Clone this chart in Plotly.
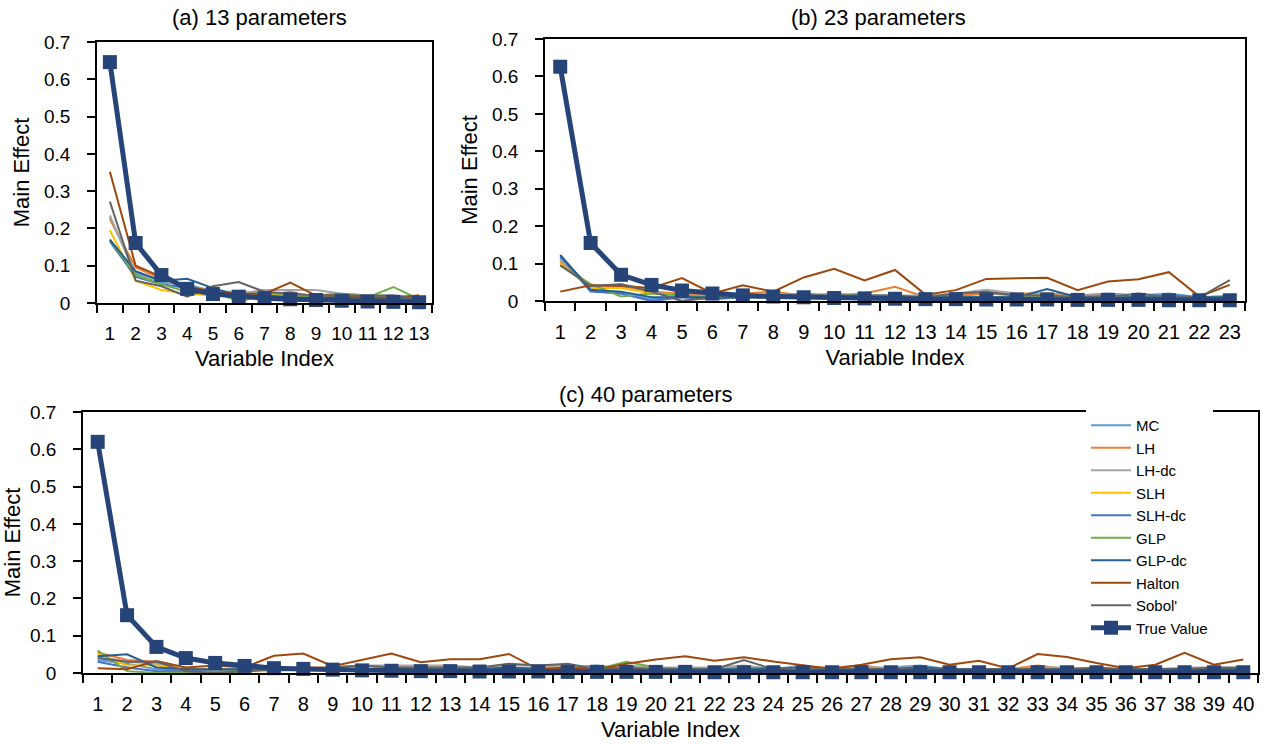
import plotly.graph_objects as go

W, H = 1266, 744

methods = ["MC", "LH", "LH-dc", "SLH", "SLH-dc", "GLP", "GLP-dc", "Halton", "Sobol'"]
colors = ["#5B9BD5", "#ED7D31", "#A5A5A5", "#FFC000", "#4472C4", "#70AD47", "#255E91", "#9E480E", "#636363"]
true_name = "True Value"
true_color = "#264478"

# ---------------- Panel (a): 13 parameters ----------------
idx_a = [str(i) for i in range(1, 14)]
a_MC = [0.23, 0.08, 0.055, 0.05, 0.03, 0.03, 0.025, 0.02, 0.02, 0.025, 0.02, 0.015, 0.015]
a_LH = [0.225, 0.095, 0.065, 0.04, 0.03, 0.025, 0.02, 0.03, 0.015, 0.015, 0.01, 0.015, 0.02]
a_LHdc = [0.235, 0.075, 0.06, 0.045, 0.035, 0.025, 0.035, 0.035, 0.035, 0.025, 0.02, 0.02, 0.015]
a_SLH = [0.195, 0.06, 0.035, 0.025, 0.02, 0.02, 0.02, 0.02, 0.015, 0.015, 0.01, 0.01, 0.01]
a_SLHdc = [0.165, 0.07, 0.05, 0.04, 0.025, 0.02, 0.015, 0.015, 0.01, 0.02, 0.015, 0.01, 0.01]
a_GLP = [0.17, 0.075, 0.05, 0.03, 0.03, 0.005, 0.02, 0.02, 0.02, 0.025, 0.015, 0.043, 0.01]
a_GLPdc = [0.17, 0.085, 0.06, 0.065, 0.04, 0.02, 0.02, 0.015, 0.015, 0.015, 0.015, 0.01, 0.01]
a_Halton = [0.352, 0.1, 0.07, 0.045, 0.03, 0.025, 0.025, 0.055, 0.02, 0.02, 0.015, 0.015, 0.02]
a_Sobol = [0.272, 0.06, 0.045, 0.017, 0.045, 0.056, 0.03, 0.025, 0.02, 0.02, 0.02, 0.02, 0.01]
a_True = [0.646, 0.161, 0.075, 0.038, 0.024, 0.017, 0.013, 0.010, 0.008, 0.006, 0.004, 0.003, 0.002]

# ---------------- Panel (b): 23 parameters ----------------
idx_b = [str(i) for i in range(1, 24)]
b_MC = [0.115, 0.028, 0.02, 0.005, 0.015, 0.01, 0.015, 0.015, 0.02, 0.015, 0.015, 0.015, 0.01, 0.015, 0.02, 0.015, 0.02, 0.015, 0.02, 0.015, 0.02, 0.01, 0.01]
b_LH = [0.105, 0.04, 0.04, 0.025, 0.02, 0.015, 0.02, 0.025, 0.015, 0.015, 0.02, 0.038, 0.01, 0.015, 0.02, 0.02, 0.02, 0.015, 0.015, 0.01, 0.01, 0.01, 0.01]
b_LHdc = [0.11, 0.04, 0.045, 0.03, 0.0, 0.015, 0.015, 0.015, 0.015, 0.02, 0.015, 0.015, 0.015, 0.02, 0.03, 0.02, 0.015, 0.015, 0.015, 0.015, 0.01, 0.01, 0.015]
b_SLH = [0.1, 0.035, 0.035, 0.02, 0.015, 0.01, 0.01, 0.01, 0.01, 0.01, 0.01, 0.015, 0.01, 0.01, 0.01, 0.01, 0.015, 0.01, 0.01, 0.01, 0.005, 0.005, 0.01]
b_SLHdc = [0.12, 0.025, 0.02, 0.0, 0.01, 0.005, 0.01, 0.01, 0.015, 0.01, 0.01, 0.01, 0.01, 0.01, 0.01, 0.01, 0.01, 0.01, 0.015, 0.01, 0.015, 0.01, 0.01]
b_GLP = [0.095, 0.045, 0.012, 0.02, 0.015, 0.01, 0.01, 0.01, 0.01, 0.015, 0.015, 0.01, 0.01, 0.015, 0.01, 0.01, 0.01, 0.015, 0.01, 0.01, 0.01, 0.01, 0.01]
b_GLPdc = [0.123, 0.03, 0.025, 0.01, 0.01, 0.01, 0.01, 0.01, 0.015, 0.01, 0.01, 0.01, 0.01, 0.01, 0.01, 0.01, 0.032, 0.01, 0.01, 0.01, 0.01, 0.01, 0.01]
b_Halton = [0.025, 0.042, 0.04, 0.035, 0.061, 0.02, 0.042, 0.025, 0.063, 0.086, 0.055, 0.083, 0.017, 0.029, 0.059, 0.061, 0.062, 0.029, 0.052, 0.058, 0.077, 0.012, 0.043]
b_Sobol = [0.095, 0.04, 0.045, 0.025, 0.0, 0.01, 0.015, 0.015, 0.015, 0.015, 0.015, 0.015, 0.01, 0.02, 0.025, 0.015, 0.015, 0.01, 0.01, 0.02, 0.01, 0.01, 0.056]
b_True = [0.626, 0.155, 0.07, 0.043, 0.028, 0.02, 0.015, 0.012, 0.01, 0.008, 0.007, 0.006, 0.005, 0.005, 0.004, 0.004, 0.004, 0.003, 0.003, 0.003, 0.002, 0.002, 0.002]

# ---------------- Panel (c): 40 parameters ----------------
idx_c = [str(i) for i in range(1, 41)]
c_MC = [0.035, 0.025, 0.01, 0.005, 0.005, 0.005, 0.01, 0.015, 0.01, 0.01, 0.015, 0.01, 0.01, 0.015, 0.01, 0.015, 0.015, 0.02, 0.01, 0.015, 0.01, 0.01, 0.015, 0.01, 0.02, 0.01, 0.01, 0.015, 0.02, 0.01, 0.01, 0.01, 0.015, 0.01, 0.01, 0.005, 0.01, 0.01, 0.015, 0.01]
c_LH = [0.055, 0.035, 0.03, 0.01, 0.01, 0.01, 0.01, 0.015, 0.015, 0.02, 0.015, 0.015, 0.015, 0.015, 0.01, 0.015, 0.015, 0.01, 0.015, 0.01, 0.015, 0.01, 0.015, 0.01, 0.015, 0.015, 0.02, 0.01, 0.01, 0.01, 0.01, 0.01, 0.02, 0.01, 0.01, 0.01, 0.01, 0.01, 0.01, 0.01]
c_LHdc = [0.045, 0.03, 0.025, 0.0, 0.0, 0.005, 0.01, 0.01, 0.015, 0.02, 0.02, 0.02, 0.02, 0.015, 0.02, 0.02, 0.02, 0.015, 0.02, 0.015, 0.015, 0.015, 0.02, 0.01, 0.015, 0.01, 0.015, 0.015, 0.015, 0.01, 0.01, 0.01, 0.015, 0.015, 0.01, 0.01, 0.01, 0.015, 0.015, 0.01]
c_SLH = [0.05, 0.02, 0.02, 0.015, 0.005, 0.005, 0.005, 0.01, 0.01, 0.01, 0.01, 0.01, 0.01, 0.01, 0.01, 0.01, 0.01, 0.01, 0.01, 0.01, 0.01, 0.01, 0.01, 0.01, 0.005, 0.005, 0.01, 0.01, 0.01, 0.005, 0.01, 0.01, 0.01, 0.01, 0.005, 0.005, 0.005, 0.01, 0.01, 0.01]
c_SLHdc = [0.03, 0.015, 0.005, 0.005, 0.005, 0.005, 0.01, 0.01, 0.01, 0.01, 0.01, 0.01, 0.01, 0.01, 0.015, 0.01, 0.01, 0.015, 0.01, 0.01, 0.01, 0.01, 0.01, 0.015, 0.01, 0.01, 0.01, 0.01, 0.015, 0.01, 0.01, 0.01, 0.01, 0.01, 0.01, 0.01, 0.01, 0.01, 0.01, 0.01]
c_GLP = [0.06, 0.005, 0.0, 0.002, 0.005, 0.005, 0.01, 0.01, 0.01, 0.01, 0.01, 0.01, 0.01, 0.01, 0.01, 0.01, 0.01, 0.01, 0.03, 0.015, 0.01, 0.01, 0.01, 0.01, 0.01, 0.01, 0.01, 0.01, 0.01, 0.01, 0.01, 0.01, 0.01, 0.01, 0.01, 0.01, 0.01, 0.01, 0.015, 0.01]
c_GLPdc = [0.045, 0.05, 0.015, 0.01, 0.01, 0.01, 0.01, 0.01, 0.01, 0.01, 0.01, 0.01, 0.01, 0.01, 0.015, 0.01, 0.01, 0.01, 0.01, 0.01, 0.01, 0.01, 0.01, 0.01, 0.015, 0.01, 0.01, 0.01, 0.015, 0.01, 0.01, 0.01, 0.01, 0.01, 0.01, 0.01, 0.01, 0.01, 0.01, 0.01]
c_Halton = [0.013, 0.01, 0.032, 0.015, 0.02, 0.015, 0.046, 0.052, 0.018, 0.036, 0.052, 0.029, 0.037, 0.037, 0.051, 0.01, 0.015, 0.01, 0.025, 0.036, 0.045, 0.033, 0.042, 0.031, 0.02, 0.011, 0.022, 0.037, 0.042, 0.022, 0.033, 0.012, 0.051, 0.043, 0.027, 0.013, 0.022, 0.054, 0.022, 0.036]
c_Sobol = [0.04, 0.03, 0.03, 0.005, 0.0, 0.005, 0.01, 0.01, 0.015, 0.02, 0.015, 0.015, 0.015, 0.015, 0.025, 0.02, 0.025, 0.01, 0.015, 0.01, 0.01, 0.01, 0.035, 0.01, 0.015, 0.01, 0.01, 0.01, 0.01, 0.01, 0.01, 0.01, 0.01, 0.01, 0.015, 0.01, 0.01, 0.01, 0.015, 0.015]
c_True = [0.62, 0.155, 0.07, 0.04, 0.027, 0.019, 0.013, 0.011, 0.009, 0.007, 0.006, 0.005, 0.005, 0.004, 0.004, 0.004, 0.003, 0.003, 0.003, 0.003, 0.003, 0.002, 0.002, 0.002, 0.002, 0.002, 0.002, 0.002, 0.002, 0.002, 0.002, 0.002, 0.002, 0.002, 0.002, 0.002, 0.002, 0.002, 0.002, 0.002]

titles = ["(a) 13 parameters", "(b) 23 parameters", "(c) 40 parameters"]
y_ticks = [0, 0.1, 0.2, 0.3, 0.4, 0.5, 0.6, 0.7]
y_ticktext = ["0", "0.1", "0.2", "0.3", "0.4", "0.5", "0.6", "0.7"]

panels = [
    ("x", "y", idx_a, [a_MC, a_LH, a_LHdc, a_SLH, a_SLHdc, a_GLP, a_GLPdc, a_Halton, a_Sobol], a_True, False),
    ("x2", "y2", idx_b, [b_MC, b_LH, b_LHdc, b_SLH, b_SLHdc, b_GLP, b_GLPdc, b_Halton, b_Sobol], b_True, False),
    ("x3", "y3", idx_c, [c_MC, c_LH, c_LHdc, c_SLH, c_SLHdc, c_GLP, c_GLPdc, c_Halton, c_Sobol], c_True, True),
]

FONT = "Liberation Sans, Arial, sans-serif"
fig = go.Figure()
for xa, ya, idx, series, truev, show in panels:
    for name, col, vals in zip(methods, colors, series):
        fig.add_trace(go.Scatter(x=idx, y=vals, mode="lines", name=name,
                                 line=dict(color=col, width=2), xaxis=xa, yaxis=ya,
                                 showlegend=show, cliponaxis=False))
    fig.add_trace(go.Scatter(x=idx, y=truev, mode="lines+markers", name=true_name,
                             line=dict(color=true_color, width=5),
                             marker=dict(symbol="square", size=14, color=true_color),
                             xaxis=xa, yaxis=ya, showlegend=show, cliponaxis=False))

def px_x(p):
    return p / W

def px_y(p):
    return 1 - p / H

# plot-area pixel boxes (left, right, top, bottom)
boxes = [(97, 432, 42, 303), (545, 1245, 39, 301), (83, 1258, 412, 673)]
xtick_sizes = [19, 20, 20]

axis_common = dict(showline=True, linecolor="black", linewidth=1.5, mirror=True,
                   showgrid=False, zeroline=False, ticks="outside", ticklen=8,
                   tickcolor="black", tickwidth=1.5, automargin=False)

layout = dict(width=W, height=H, margin=dict(l=0, r=0, t=0, b=0, autoexpand=False),
              paper_bgcolor="white", plot_bgcolor="white",
              font=dict(family=FONT, color="black"))

names = [("xaxis", "yaxis"), ("xaxis2", "yaxis2"), ("xaxis3", "yaxis3")]
anchors = [("y", "x"), ("y2", "x2"), ("y3", "x3")]
for (xn, yn), (xanc, yanc), (l, r, t, b), fs, (_, _, idx, _, _, _) in zip(names, anchors, boxes, xtick_sizes, panels):
    layout[xn] = dict(axis_common, domain=[px_x(l), px_x(r)], anchor=xanc,
                      type="category", range=[-0.5, len(idx) - 0.5],
                      tickson="boundaries", tickfont=dict(size=fs), tickangle=0,
                      ticklabelstandoff=12,
                      title=dict(text="Variable Index", font=dict(size=22), standoff=8))
    layout[yn] = dict(axis_common, domain=[px_y(b), px_y(t)], anchor=yanc,
                      range=[0, 0.7], tickvals=y_ticks, ticktext=y_ticktext,
                      tickfont=dict(size=19), ticklabelstandoff=13,
                      title=dict(text="Main Effect", font=dict(size=22), standoff=8))

annotations = []
title_pos = [(259, 18), (878, 18), (646, 394)]
for txt, (cx, cy) in zip(titles, title_pos):
    annotations.append(dict(text=txt, x=px_x(cx), y=px_y(cy), xref="paper", yref="paper",
                            xanchor="center", yanchor="middle", showarrow=False,
                            font=dict(size=22)))
layout["annotations"] = annotations
layout["legend"] = dict(x=px_x(1086), y=px_y(409), xanchor="left", yanchor="top",
                        bgcolor="white", font=dict(size=15), tracegroupgap=0,
                        itemwidth=40, entrywidth=115)

fig.update_layout(**layout)
fig.write_html("out.html", config={"displayModeBar": False},
               post_script="document.body.style.margin='0';")
